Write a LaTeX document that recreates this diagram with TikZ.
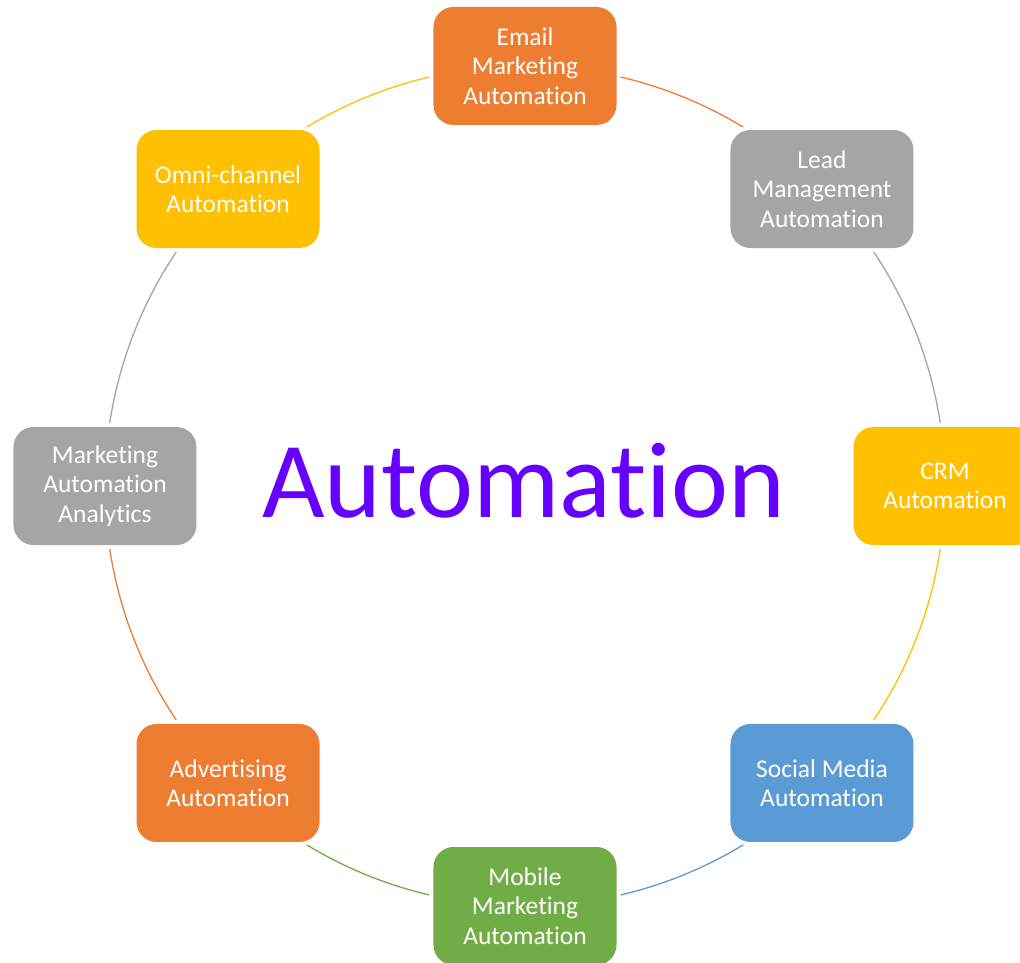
\documentclass[tikz,border=0pt]{standalone}
\usepackage{fontspec}
\setmainfont{Carlito}[Ligatures=NoCommon]
\usetikzlibrary{backgrounds}
\definecolor{cOrange}{HTML}{ED7D31}
\definecolor{cGray}{HTML}{A5A5A5}
\definecolor{cYellow}{HTML}{FFC000}
\definecolor{cBlue}{HTML}{5B9BD5}
\definecolor{cGreen}{HTML}{70AD47}
\definecolor{cPurple}{HTML}{6600FF}
\begin{document}
\begin{tikzpicture}[x=1pt,y=1pt,
  box/.style={rounded corners=20pt, minimum width=183pt, minimum height=118pt,
    text=white, align=center, font=\fontsize{25.5}{29.3}\selectfont, inner sep=0pt,
    preaction={draw=white, line width=8pt}},
  ring/.style={line width=1.3pt}]
\useasboundingbox (-525,-476) rectangle (495,486);
\node[box, fill=cOrange] (email) at (90:420) {Email\\Marketing\\Automation};
\node[box, fill=cGray] (lead) at (45:420) {Lead\\Management\\Automation};
\node[box, fill=cYellow] (crm) at (0:420) {CRM\\Automation};
\node[box, fill=cBlue] (social) at (-45:420) {Social Media\\Automation};
\node[box, fill=cGreen] (mobile) at (-90:420) {Mobile\\Marketing\\Automation};
\node[box, fill=cOrange] (advert) at (-135:420) {Advertising\\Automation};
\node[box, fill=cGray] (analytics) at (180:420) {Marketing\\Automation\\Analytics};
\node[box, fill=cYellow] (omni) at (135:420) {Omni-channel\\Automation};
\node[text=cPurple, font=\fontsize{108}{120}\selectfont, inner sep=0pt, anchor=base] (center) at (-1.5,-31) {Automation};
\begin{pgfonlayer}{background}
\draw[ring, cOrange] (email.center) arc[start angle=90, end angle=45, radius=420];
\draw[ring, cGray] (lead.center) arc[start angle=45, end angle=0, radius=420];
\draw[ring, cYellow] (crm.center) arc[start angle=0, end angle=-45, radius=420];
\draw[ring, cBlue] (social.center) arc[start angle=-45, end angle=-90, radius=420];
\draw[ring, cGreen] (mobile.center) arc[start angle=-90, end angle=-135, radius=420];
\draw[ring, cOrange] (advert.center) arc[start angle=-135, end angle=-180, radius=420];
\draw[ring, cGray] (analytics.center) arc[start angle=180, end angle=135, radius=420];
\draw[ring, cYellow] (omni.center) arc[start angle=135, end angle=90, radius=420];
\end{pgfonlayer}
\end{tikzpicture}
\end{document}
